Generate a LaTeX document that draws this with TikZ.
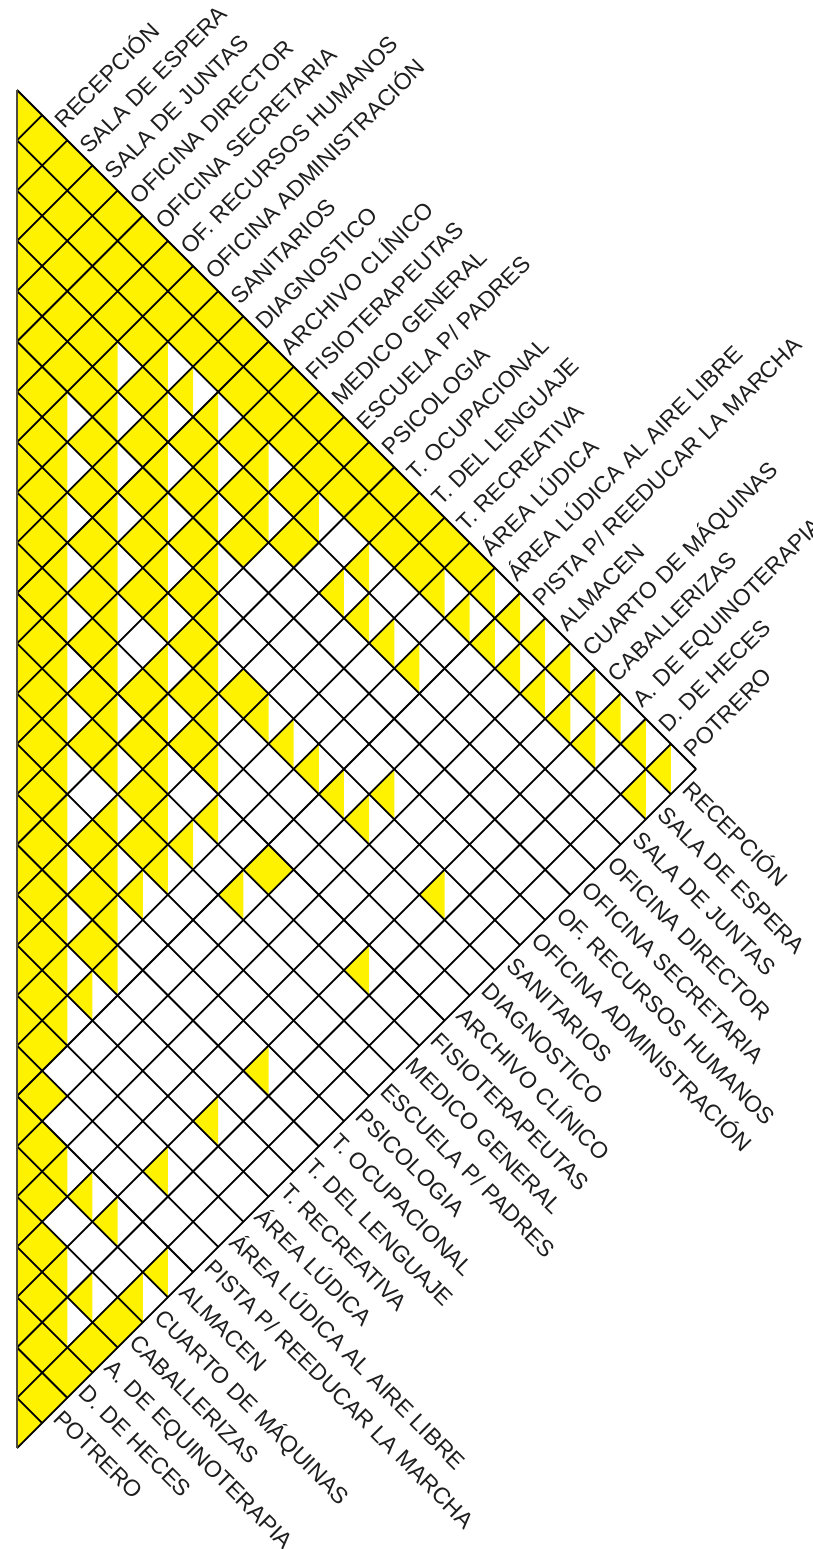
\documentclass[tikz,border=0pt]{standalone}
\usepackage{fontspec}
\setmainfont{Liberation Sans}
\definecolor{ylw}{RGB}{255,242,0}
\definecolor{txt}{RGB}{30,30,30}
\newcommand{\hh}{25.15}
\newcommand{\Ycell}[2]{\fill[ylw] ({17+(#1-#2+1)*\hh},{90+(#1+#2-1)*\hh}) -- ++(\hh,\hh) -- ++(-\hh,\hh) -- ++(-\hh,-\hh) -- cycle;}
\newcommand{\Hcell}[2]{\fill[ylw] ({17+(#1-#2+1)*\hh},{90+(#1+#2-1)*\hh}) -- ++(0,{2*\hh}) -- ++(-\hh,-\hh) -- cycle;}
\tikzset{
  gridline/.style={line width=1.8pt, black},
  ulabel/.style={anchor=west, rotate=45, inner sep=1pt, text=txt, font=\fontsize{23}{26}\selectfont, text height=16.5pt, text depth=0pt},
  llabel/.style={anchor=west, rotate=-45, inner sep=1pt, text=txt, font=\fontsize{23}{26}\selectfont, text height=16.5pt, text depth=0pt}
}
\begin{document}
\begin{tikzpicture}[x=1pt,y=-1pt]
\useasboundingbox (0,0) rectangle (812,1549);
% half cells on left edge
\foreach \b in {1,...,27} {
  \fill[ylw] (17,{90+(2*\b-2)*\hh}) -- ({17+\hh},{90+(2*\b-1)*\hh}) -- (17,{90+2*\b*\hh}) -- cycle;
}
% self cells
\foreach \i in {1,...,26} {\Ycell{\i}{\i}}
% full relations
\foreach \i in {2,...,18} {\Ycell{\i}{1}}
\foreach \i in {3,...,17} {\Ycell{\i}{2}}
\foreach \i/\j in {4/3,5/3,6/3,7/3,11/3,13/3,
  5/4,6/4,8/4,10/4,12/4,14/4,
  6/5,7/5,9/5,11/5,13/5,
  8/6,10/6,12/6,
  9/7,11/7,13/7,
  10/8,12/8,14/8,16/8,
  11/9,15/9,
  12/10,14/10,16/10,
  13/11,15/11,20/11,
  14/12,16/12,
  17/13, 16/14, 17/15, 18/16,
  26/23,26/24,26/25} {\Ycell{\i}{\j}}
% half relations
\foreach \i in {19,...,26} {\Hcell{\i}{1}}
\foreach \i in {18,...,24} {\Hcell{\i}{2}}
\foreach \i/\j in {26/2,
  8/3,9/3,10/3,12/3,14/3,16/3,
  7/4,9/4,11/4,13/4,16/4,17/4,18/4,19/4,
  8/5,10/5,12/5,
  7/6,9/6,11/6,13/6,
  8/7,10/7,12/7,14/7,21/7,
  9/8,11/8,13/8,15/8,17/8,18/8,19/8,20/8,21/8,24/8,
  10/9,12/9,14/9,16/9,
  11/10,13/10,15/10,17/10,
  12/11,14/11,16/11,18/11,24/11,
  13/12,15/12,17/12,18/12,20/12,
  14/13,16/13,18/13,
  15/14,17/14,18/14,
  16/15,18/15,24/15,
  17/16,19/16,
  18/17,19/17,24/17,
  19/18, 24/19,
  22/21,23/21,24/21,26/21,
  26/22, 24/23,25/23, 25/24} {\Hcell{\i}{\j}}
% grid
\coordinate (top) at (17,90);
\coordinate (bot) at (17,{90+54*\hh});
\coordinate (apex) at ({17+27*\hh},{90+27*\hh});
\foreach \m in {0,...,26} {
  \draw[gridline] (17,{90+2*\m*\hh}) -- ({17+(27-\m)*\hh},{90+(27+\m)*\hh});
}
\foreach \m in {1,...,27} {
  \draw[gridline] (17,{90+2*\m*\hh}) -- ({17+\m*\hh},{90+\m*\hh});
}
\draw[line width=2pt, black!80!yellow] (top) -- (bot);
% upper labels
\foreach \t [count=\i] in {RECEPCIÓN,SALA DE ESPERA,SALA DE JUNTAS,OFICINA DIRECTOR,OFICINA SECRETARIA,OF. RECURSOS HUMANOS,OFICINA ADMINISTRACIÓN,SANITARIOS,DIAGNOSTICO,ARCHIVO CLÍNICO,FISIOTERAPEUTAS,MEDICO GENERAL,ESCUELA P/ PADRES,PSICOLOGIA,T. OCUPACIONAL,T. DEL LENGUAJE,T. RECREATIVA,ÁREA LÚDICA,ÁREA LÚDICA AL AIRE LIBRE,PISTA P/ REEDUCAR LA MARCHA,ALMACEN,CUARTO DE MÁQUINAS,CABALLERIZAS,A. DE EQUINOTERAPIA,D. DE HECES,POTRERO} {
  \node[ulabel] (u\i) at ({17+(\i+0.5)*\hh+3},{90+(\i+0.5)*\hh-3}) {\t};
  \node[llabel] (l\i) at ({17+(27.5-\i)*\hh+3},{90+(26.5+\i)*\hh+3}) {\t};
}
\end{tikzpicture}
\end{document}
